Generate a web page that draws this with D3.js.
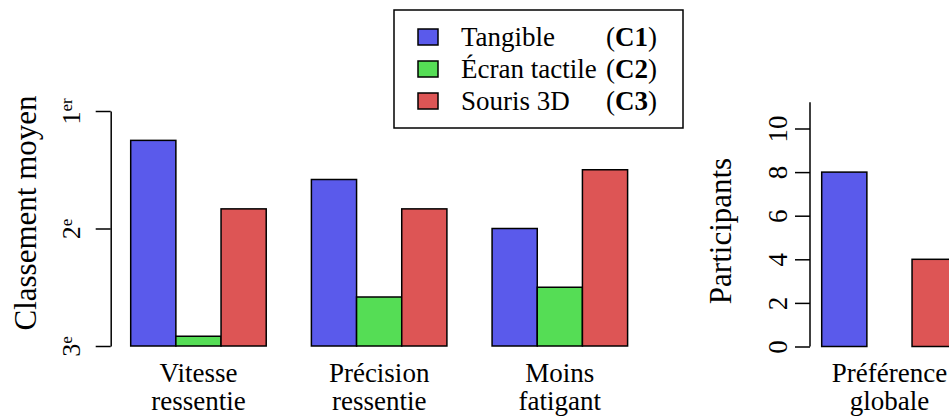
<!DOCTYPE html>
<html>
<head>
<meta charset="utf-8">
<script src="https://cdn.jsdelivr.net/npm/d3@7"></script>
<style>
  body { margin: 0; background: #fff; }
  svg, svg text { font-family: "Liberation Serif", "DejaVu Serif", serif; }
</style>
</head>
<body>
<svg class="chart" width="949" height="416"></svg>
<script>
// data
var categories = [["Vitesse", "ressentie"], ["Précision", "ressentie"], ["Moins", "fatigant"]];
var seriesNames = ["Tangible", "Écran tactile", "Souris 3D"];
var seriesCodes = ["C1", "C2", "C3"];
var tangible = [1.25, 1.583, 2.0];
var ecranTactile = [2.917, 2.583, 2.5];
var souris3D = [1.833, 1.833, 1.5];
var rankTicks = [1, 2, 3];
var rankLabels = [["1", "er"], ["2", "e"], ["3", "e"]];

var prefCategory = ["Préférence", "globale"];
var prefValues = [8, 0, 4];
var prefTicks = [0, 2, 4, 6, 8, 10];

var colors = ["#5a5aeb", "#55dd55", "#dd5555"];

var svg = d3.select(".chart");

// ---------- left chart: mean ranking ----------
var x = d3.scaleLinear().domain([1, 12]).range([130.7, 627.6]);
var unit = x(2) - x(1);
var y = d3.scaleLinear().domain([1, 3]).range([111, 346]);

var rankSeries = [tangible, ecranTactile, souris3D];
var bars = [];
categories.forEach(function (c, g) {
    rankSeries.forEach(function (s, j) {
        bars.push({ g: g, j: j, v: s[g] });
    });
});

svg.append("g").selectAll("rect")
    .data(bars)
    .enter().append("rect")
    .attr("x", function (d) { return x(d.g * 4 + 1 + d.j); })
    .attr("width", unit)
    .attr("y", function (d) { return y(d.v); })
    .attr("height", function (d) { return y(3) - y(d.v); })
    .attr("fill", function (d) { return colors[d.j]; })
    .attr("stroke", "#000")
    .attr("stroke-width", 1.5);

var yAxis = svg.append("g")
    .attr("transform", "translate(110.7,0)")
    .call(d3.axisLeft(y).tickValues(rankTicks).tickSize(15).tickSizeOuter(0))
    .attr("font-family", null);
yAxis.select(".domain").attr("stroke", "#000").attr("stroke-width", 1.5);
yAxis.selectAll(".tick line").attr("stroke", "#000").attr("stroke-width", 1.5);
yAxis.selectAll(".tick text").remove();
yAxis.selectAll(".tick").each(function (d, i) {
    var t = d3.select(this).append("text")
        .attr("transform", "translate(-31,0) rotate(-90)")
        .attr("text-anchor", "middle")
        .attr("fill", "#000")
        .style("font-size", "26px");
    t.append("tspan").text(rankLabels[i][0]);
    t.append("tspan").text(rankLabels[i][1])
        .attr("dy", "-0.45em")
        .style("font-size", "17px");
});

svg.append("text")
    .attr("transform", "translate(36,213) rotate(-90)")
    .attr("text-anchor", "middle")
    .style("font-size", "31px")
    .text("Classement moyen");

categories.forEach(function (c, g) {
    var cx = x(g * 4 + 2.5);
    c.forEach(function (line, k) {
        svg.append("text")
            .attr("x", cx)
            .attr("y", 382 + k * 28)
            .attr("text-anchor", "middle")
            .style("font-size", "27px")
            .text(line);
    });
});

// ---------- right chart: overall preference ----------
var x2 = d3.scaleLinear().domain([1, 4]).range([821.7, 821.7 + 3 * unit]);
var y2 = d3.scaleLinear().domain([0, 10]).range([346.5, 128.5]);

svg.append("g").selectAll("rect")
    .data(prefValues)
    .enter().append("rect")
    .attr("x", function (d, i) { return x2(1 + i); })
    .attr("width", unit)
    .attr("y", function (d) { return y2(d); })
    .attr("height", function (d) { return y2(0) - y2(d); })
    .attr("fill", function (d, i) { return colors[i]; })
    .attr("stroke", "#000")
    .attr("stroke-width", 1.5);

var yAxis2 = svg.append("g")
    .attr("transform", "translate(810,0)")
    .call(d3.axisLeft(y2).tickValues(prefTicks).tickSize(15).tickSizeOuter(0))
    .attr("font-family", null);
yAxis2.select(".domain").remove();
yAxis2.append("line")
    .attr("y1", y2(0)).attr("y2", y2(11.2))
    .attr("stroke", "#000").attr("stroke-width", 1.5);
yAxis2.selectAll(".tick line").attr("stroke", "#000").attr("stroke-width", 1.5);
yAxis2.selectAll(".tick text")
    .attr("x", null).attr("dy", null)
    .attr("transform", "translate(-23,0) rotate(-90)")
    .attr("text-anchor", "middle")
    .attr("fill", "#000")
    .style("font-size", "27px");

svg.append("text")
    .attr("transform", "translate(731,231) rotate(-90)")
    .attr("text-anchor", "middle")
    .style("font-size", "31px")
    .text("Participants");

prefCategory.forEach(function (line, k) {
    svg.append("text")
        .attr("x", x2(2.5))
        .attr("y", 382 + k * 28)
        .attr("text-anchor", "middle")
        .style("font-size", "27px")
        .text(line);
});

// ---------- legend ----------
var legend = svg.append("g");
legend.append("rect")
    .attr("x", 394).attr("y", 10)
    .attr("width", 289).attr("height", 118)
    .attr("fill", "#fff")
    .attr("stroke", "#000")
    .attr("stroke-width", 1.5);

var items = legend.selectAll(".legend")
    .data(seriesNames)
    .enter().append("g")
    .attr("class", "legend")
    .attr("transform", function (d, i) { return "translate(0," + (37 + i * 32) + ")"; });

items.append("rect")
    .attr("x", 418).attr("y", -8)
    .attr("width", 20).attr("height", 16)
    .attr("fill", function (d, i) { return colors[i]; })
    .attr("stroke", "#000")
    .attr("stroke-width", 1.5);

items.append("text")
    .attr("x", 461).attr("y", 9)
    .style("font-size", "27px")
    .text(function (d) { return d; });

items.each(function (d, i) {
    var t = d3.select(this).append("text")
        .attr("x", 606).attr("y", 9)
        .style("font-size", "27px");
    t.append("tspan").text("(");
    t.append("tspan").style("font-weight", "bold").text(seriesCodes[i]);
    t.append("tspan").text(")");
});
</script>
</body>
</html>
